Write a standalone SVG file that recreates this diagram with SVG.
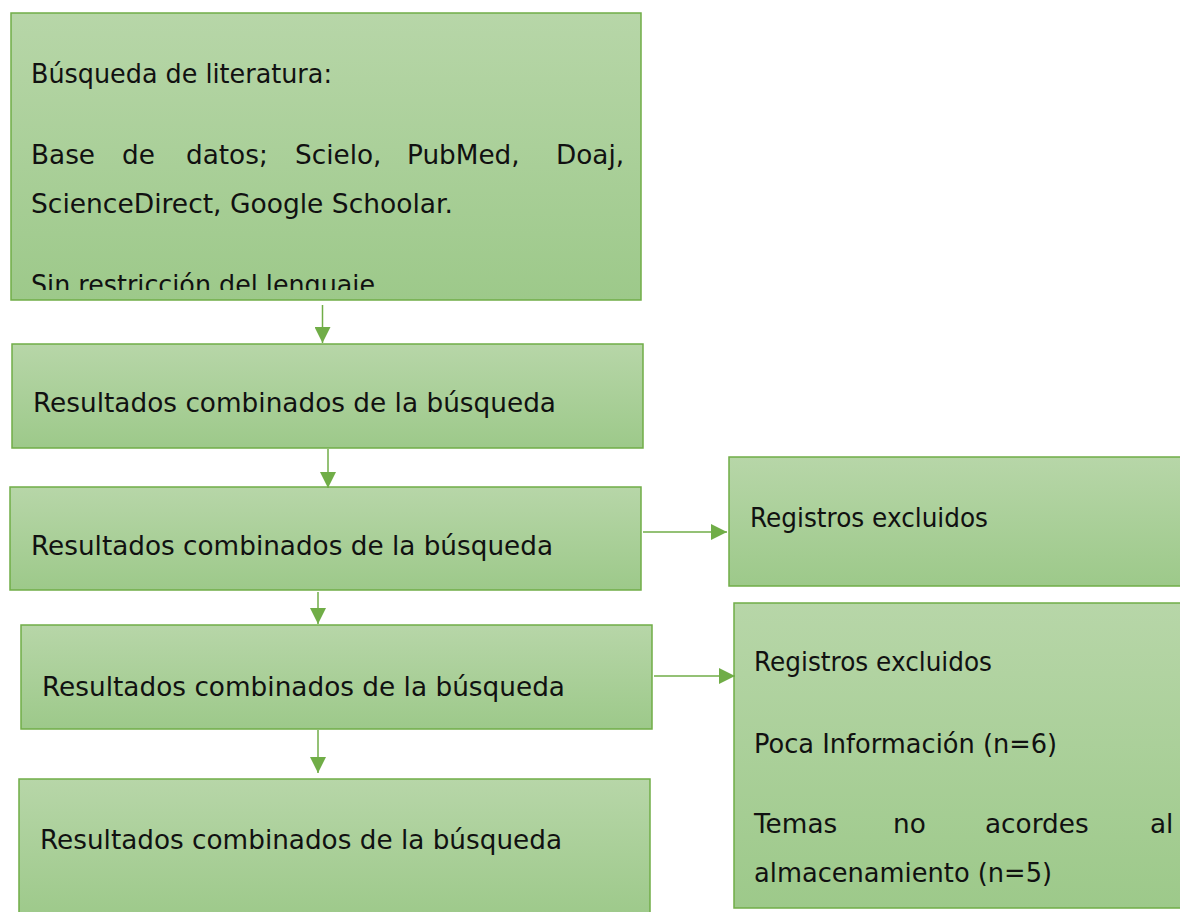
<svg xmlns="http://www.w3.org/2000/svg" width="1180" height="912" viewBox="0 0 1180 912">
<defs>
<linearGradient id="g" x1="0" y1="0" x2="0" y2="1">
<stop offset="0" stop-color="#b7d6a8"/>
<stop offset="1" stop-color="#9dc98a"/>
</linearGradient>
<marker id="ah" markerUnits="userSpaceOnUse" markerWidth="16" markerHeight="16" refX="16" refY="8" orient="auto">
<path d="M0,0 L16,8 L0,16 Z" fill="#70ad47"/>
</marker>
<clipPath id="c1"><rect x="11" y="13" width="630" height="277"/></clipPath>
</defs>
<style>
.box{fill:url(#g);stroke:#70ad47;stroke-width:1.5}
.t{font-family:"DejaVu Sans",sans-serif;font-size:26.3px;fill:#111}
.con line{stroke:#70ad47;stroke-width:1.5;marker-end:url(#ah)}
</style>
<rect width="1180" height="912" fill="#fff"/>
<g id="n1">
<rect class="box" x="11" y="13" width="630" height="287"/>
<text class="t" x="31" y="83" textLength="301" lengthAdjust="spacingAndGlyphs">Búsqueda de literatura:</text>
<text class="t" y="164"><tspan x="31">Base</tspan><tspan x="122">de</tspan><tspan x="186">datos;</tspan><tspan x="295">Scielo,</tspan><tspan x="407">PubMed,</tspan><tspan x="556">Doaj,</tspan></text>
<text class="t" x="31" y="213" textLength="422" lengthAdjust="spacingAndGlyphs">ScienceDirect, Google Schoolar.</text>
<g clip-path="url(#c1)"><text class="t" x="31" y="294" textLength="344" lengthAdjust="spacingAndGlyphs">Sin restricción del lenguaje</text></g>
</g>
<g id="n2">
<rect class="box" x="12" y="344" width="631" height="104"/>
<text class="t" x="33" y="412" textLength="523" lengthAdjust="spacingAndGlyphs">Resultados combinados de la búsqueda</text>
</g>
<g id="n3">
<rect class="box" x="10" y="487" width="631" height="103"/>
<text class="t" x="31" y="555" textLength="522" lengthAdjust="spacingAndGlyphs">Resultados combinados de la búsqueda</text>
</g>
<g id="n4">
<rect class="box" x="21" y="625" width="631" height="104"/>
<text class="t" x="42" y="696" textLength="523" lengthAdjust="spacingAndGlyphs">Resultados combinados de la búsqueda</text>
</g>
<g id="n5">
<rect class="box" x="19" y="779" width="631" height="140"/>
<text class="t" x="40" y="849" textLength="522" lengthAdjust="spacingAndGlyphs">Resultados combinados de la búsqueda</text>
</g>
<g id="r1">
<rect class="box" x="729" y="457" width="460" height="129"/>
<text class="t" x="750" y="527" textLength="238" lengthAdjust="spacingAndGlyphs">Registros excluidos</text>
</g>
<g id="r2">
<rect class="box" x="734" y="603" width="460" height="305"/>
<text class="t" x="754" y="671" textLength="238" lengthAdjust="spacingAndGlyphs">Registros excluidos</text>
<text class="t" x="754" y="753" textLength="303" lengthAdjust="spacingAndGlyphs">Poca Información (n=6)</text>
<text class="t" y="833"><tspan x="754">Temas</tspan><tspan x="893">no</tspan><tspan x="985">acordes</tspan><tspan x="1150">al</tspan></text>
<text class="t" x="754" y="882" textLength="298" lengthAdjust="spacingAndGlyphs">almacenamiento (n=5)</text>
</g>
<g id="connectors" class="con">
<line x1="322.5" y1="305" x2="322.5" y2="343"/>
<line x1="328" y1="449" x2="328" y2="488"/>
<line x1="318" y1="592" x2="318" y2="624"/>
<line x1="318" y1="730" x2="318" y2="773"/>
<line x1="643" y1="532" x2="727" y2="532"/>
<line x1="654" y1="676" x2="735" y2="676"/>
</g>
</svg>
